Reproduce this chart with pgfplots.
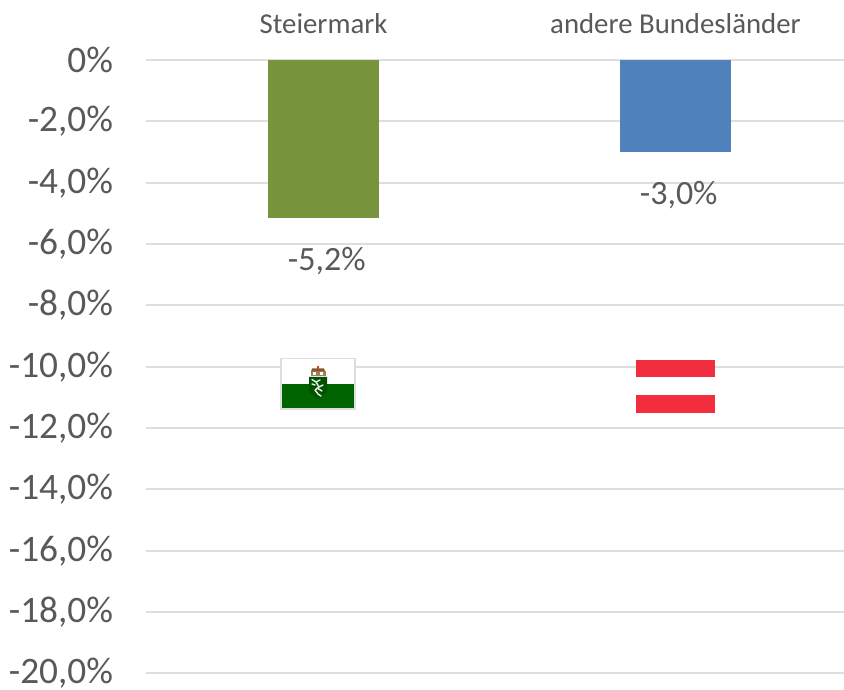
\documentclass[border=0pt]{standalone}
\usepackage{pgfplots}
\pgfplotsset{compat=1.18}
\usepackage{fontspec}
\setmainfont{Carlito}
\definecolor{gridc}{HTML}{DEDEDE}
\definecolor{txt}{HTML}{595959}
\definecolor{bargreen}{HTML}{77933C}
\definecolor{barblue}{HTML}{4F81BD}
\definecolor{flagred}{HTML}{F22D3D}
\definecolor{flaggreen}{HTML}{006400}
\begin{document}
\begin{tikzpicture}
\path[use as bounding box] (0pt,0pt) rectangle (633pt,517.5pt);
\begin{axis}[
  at={(109.5pt,12.4pt)}, anchor=south west,
  scale only axis, width=523.5pt, height=460.1pt,
  xmin=-0.5043, xmax=1.4787, ymin=-20, ymax=0,
  clip=false,
  axis line style={draw=none},
  major tick length=0pt,
  ybar, bar shift=0pt, bar width=83.25pt,
  ymajorgrids, grid style={draw=gridc,line width=1.5pt},
  xtick={0,1}, xticklabels={Steiermark,andere Bundesländer},
  xticklabel pos=top,
  xticklabel style={font=\fontsize{21.6}{24}\selectfont,text=txt,yshift=16pt},
  ytick={0,-2,-4,-6,-8,-10,-12,-14,-16,-18,-20},
  yticklabels={{0\%},{-2,0\%},{-4,0\%},{-6,0\%},{-8,0\%},{-10,0\%},{-12,0\%},{-14,0\%},{-16,0\%},{-18,0\%},{-20,0\%}},
  yticklabel style={font=\fontsize{28}{30}\selectfont,text=txt,inner sep=0pt,xshift=-24.5pt,anchor=east},
  nodes near coords={\pgfmathprintnumber[fixed,fixed zerofill,precision=1,use comma,assume math mode=true]{\pgfplotspointmeta}\%},
  every node near coord/.append style={font=\fontsize{25.5}{28}\selectfont,text=txt,anchor=center,yshift=-32pt,xshift=2.4pt},
]
\addplot[draw=none,fill=bargreen] coordinates {(0,-5.15)};
\addplot[draw=none,fill=barblue] coordinates {(1,-3.0)};
\end{axis}
\begin{scope}[x=0.75pt,y=-0.75pt,yshift=517.5pt]
% Steiermark flag
\fill[white] (280.5,358) rectangle (355.5,409.5);
\draw[gridc,line width=0.9pt] (281,358.5) rectangle (355,409);
\fill[flaggreen] (282,384) rectangle (354,408);
% shield
\fill[flaggreen!80!black] (309,377) -- (327,377) -- (327,392) -- (318,399) -- (309,392) -- cycle;
% panther
\draw[white!88!flaggreen,line width=1.1pt,line cap=round,line join=round]
  (312,379.5) -- (316,382) -- (320,380) (316,382) -- (319,387) -- (315,390) -- (318,394) -- (321,396)
  (319,387) -- (323,385) (317,388) -- (322,391) (312,384) -- (315,385);
% crown
\fill[brown!55!gray] (310.5,371) rectangle (325.5,376);
\fill[white] (313,372) rectangle (316,375.5);
\fill[white] (320,372) rectangle (323,375.5);
\fill[brown!70!black] (312,368.5) -- (324,368.5) -- (325,371.5) -- (311,371.5) -- cycle;
\fill[red!50!brown] (317,366.5) rectangle (319,369);
% Austria flag
\fill[flagred] (636,360) rectangle (715,377);
\fill[flagred] (636,395) rectangle (715,413);
\end{scope}
\end{tikzpicture}
\end{document}
